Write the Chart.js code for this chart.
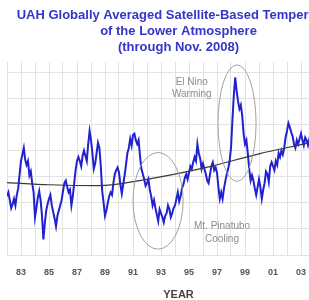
<!DOCTYPE html>
<html>
<head>
<meta charset="utf-8">
<script src="https://cdn.jsdelivr.net/npm/chart.js"></script>
<style>
  html, body { margin: 0; padding: 0; background: #fff; overflow: hidden; }
  #wrap { position: absolute; left: 0; top: 0; width: 358px; height: 300px; }
</style>
</head>
<body>
<div id="wrap"><canvas id="uahChart" width="358" height="300"></canvas></div>
<script>
// anomalies (deg C), about one value per 0.1 year
const years = [
  1982.0, 1982.1, 1982.2, 1982.3, 1982.4, 1982.5, 1982.6, 1982.7, 1982.8, 1982.9,
  1983.0, 1983.1, 1983.2, 1983.3, 1983.4, 1983.5, 1983.6, 1983.7, 1983.8, 1983.9,
  1984.0, 1984.1, 1984.2, 1984.3, 1984.4, 1984.5, 1984.6, 1984.7, 1984.8, 1984.9,
  1985.0, 1985.1, 1985.2, 1985.3, 1985.4, 1985.5, 1985.6, 1985.7, 1985.8, 1985.9,
  1986.0, 1986.1, 1986.2, 1986.3, 1986.4, 1986.5, 1986.6, 1986.7, 1986.8, 1986.9,
  1987.0, 1987.1, 1987.2, 1987.3, 1987.4, 1987.5, 1987.6, 1987.7, 1987.8, 1987.9,
  1988.0, 1988.1, 1988.2, 1988.3, 1988.4, 1988.5, 1988.6, 1988.7, 1988.8, 1988.9,
  1989.0, 1989.1, 1989.2, 1989.3, 1989.4, 1989.5, 1989.6, 1989.7, 1989.8, 1989.9,
  1990.0, 1990.1, 1990.2, 1990.3, 1990.4, 1990.5, 1990.6, 1990.7, 1990.8, 1990.9,
  1991.0, 1991.1, 1991.2, 1991.3, 1991.4, 1991.5, 1991.6, 1991.7, 1991.8, 1991.9,
  1992.0, 1992.1, 1992.2, 1992.3, 1992.4, 1992.5, 1992.6, 1992.7, 1992.8, 1992.9,
  1993.0, 1993.1, 1993.2, 1993.3, 1993.4, 1993.5, 1993.6, 1993.7, 1993.8, 1993.9,
  1994.0, 1994.1, 1994.2, 1994.3, 1994.4, 1994.5, 1994.6, 1994.7, 1994.8, 1994.9,
  1995.0, 1995.1, 1995.2, 1995.3, 1995.4, 1995.5, 1995.6, 1995.7, 1995.8, 1995.9,
  1996.0, 1996.1, 1996.2, 1996.3, 1996.4, 1996.5, 1996.6, 1996.7, 1996.8, 1996.9,
  1997.0, 1997.1, 1997.2, 1997.3, 1997.4, 1997.5, 1997.6, 1997.7, 1997.8, 1997.9,
  1998.0, 1998.1, 1998.2, 1998.3, 1998.4, 1998.5, 1998.6, 1998.7, 1998.8, 1998.9,
  1999.0, 1999.1, 1999.2, 1999.3, 1999.4, 1999.5, 1999.6, 1999.7, 1999.8, 1999.9,
  2000.0, 2000.1, 2000.2, 2000.3, 2000.4, 2000.5, 2000.6, 2000.7, 2000.8, 2000.9,
  2001.0, 2001.1, 2001.2, 2001.3, 2001.4, 2001.5, 2001.6, 2001.7, 2001.8, 2001.9,
  2002.0, 2002.1, 2002.2, 2002.3, 2002.4, 2002.5, 2002.6, 2002.7, 2002.8, 2002.9,
  2003.0, 2003.1, 2003.2, 2003.3, 2003.4, 2003.5, 2003.6, 2003.7, 2003.8, 2003.9,
  2004.0
];
const anomalies = [
  -0.15, -0.12, -0.18, -0.24, -0.21, -0.17, -0.22, -0.14, -0.09, 0.02,
  0.12, 0.17, 0.22, 0.13, 0.09, 0.12, 0.01, 0.04, -0.05, -0.12,
  -0.31, -0.24, -0.16, -0.11, -0.18, -0.30, -0.48, -0.36, -0.26, -0.21,
  -0.17, -0.14, -0.22, -0.27, -0.32, -0.38, -0.30, -0.26, -0.22, -0.18,
  -0.11, -0.05, -0.03, -0.08, -0.12, -0.10, -0.22, -0.15, -0.05, 0.05,
  0.12, 0.15, 0.12, 0.08, 0.16, 0.20, 0.16, 0.12, 0.25, 0.35,
  0.28, 0.18, 0.06, 0.10, 0.18, 0.26, 0.22, 0.08, -0.11, -0.20,
  -0.30, -0.26, -0.20, -0.15, -0.12, -0.14, -0.05, 0.02, 0.05, 0.07,
  0.03, -0.06, -0.13, -0.06, 0.01, 0.09, 0.18, 0.22, 0.29, 0.24,
  0.32, 0.33, 0.28, 0.25, 0.28, 0.16, 0.06, 0.02, -0.02, -0.07,
  -0.05, -0.02, -0.10, -0.15, -0.22, -0.18, -0.24, -0.29, -0.34, -0.25,
  -0.28, -0.31, -0.35, -0.30, -0.28, -0.22, -0.25, -0.31, -0.28, -0.24,
  -0.22, -0.17, -0.12, -0.19, -0.15, -0.09, -0.06, -0.01, 0.02, -0.02,
  0.03, 0.08, 0.06, 0.11, 0.15, 0.12, 0.25, 0.18, 0.14, 0.06,
  0.10, 0.06, 0.02, -0.03, -0.05, 0.02, 0.08, 0.11, 0.05, 0.07,
  0.03, -0.08, -0.17, -0.12, -0.17, -0.09, -0.03, 0.02, 0.06, 0.12,
  0.22, 0.43, 0.62, 0.76, 0.66, 0.58, 0.52, 0.55, 0.47, 0.33,
  0.25, 0.28, 0.18, 0.06, -0.03, 0.01, -0.03, -0.09, -0.14, -0.08,
  -0.02, -0.08, -0.17, -0.10, -0.05, 0.04, 0.02, -0.04, 0.08, 0.11,
  0.08, 0.05, 0.12, 0.09, 0.18, 0.15, 0.20, 0.17, 0.22, 0.30,
  0.35, 0.41, 0.38, 0.34, 0.31, 0.25, 0.22, 0.28, 0.25, 0.29,
  0.33, 0.28, 0.24, 0.30, 0.28, 0.24, 0.29, 0.27, 0.25, 0.30,
  0.24
];

// smooth trend curve
const trendYears = [1982.0, 1985.0, 1988.5, 1992.0, 1996.0, 2000.0, 2004.0, 2006.5];
const trendValues = [-0.045, -0.062, -0.069, -0.02, 0.065, 0.175, 0.27, 0.34];

const titleLines = [
  'UAH Globally Averaged Satellite-Based Temperature',
  'of the Lower Atmosphere',
  '(through Nov. 2008)'
];
const gridValues = [-0.6, -0.4, -0.2, 0, 0.2, 0.4, 0.6, 0.8];

// callouts: ellipse centre/radii in data units, label lines
const callouts = [
  { cx: 1992.79, cy: -0.185, rx: 1.79, ry: 0.37,
    text: ['Mt. Pinatubo', 'Cooling'], tx: 1997.36, ty: [-0.377, -0.477] },
  { cx: 1998.43, cy: 0.41, rx: 1.36, ry: 0.446,
    text: ['El Nino', 'Warming'], tx: 1995.2, ty: [0.72, 0.635] }
];

const FONT = '"Liberation Sans", Arial, sans-serif';

const calloutPlugin = {
  id: 'callouts',
  afterDatasetsDraw(chart) {
    const { ctx, scales: { x, y } } = chart;
    ctx.save();
    ctx.strokeStyle = '#a0a0a0';
    ctx.lineWidth = 1;
    ctx.fillStyle = '#8c8c8c';
    ctx.font = '10px ' + FONT;
    ctx.textAlign = 'center';
    ctx.textBaseline = 'middle';
    callouts.forEach(c => {
      const px = x.getPixelForValue(c.cx);
      const py = y.getPixelForValue(c.cy);
      const rx = Math.abs(x.getPixelForValue(c.cx + c.rx) - px);
      const ry = Math.abs(y.getPixelForValue(c.cy + c.ry) - py);
      ctx.beginPath();
      ctx.ellipse(px, py, rx, ry, 0, 0, Math.PI * 2);
      ctx.stroke();
      c.text.forEach((t, i) => {
        ctx.fillText(t, x.getPixelForValue(c.tx), y.getPixelForValue(c.ty[i]));
      });
    });
    ctx.restore();
  }
};

const ctx = document.getElementById('uahChart').getContext('2d');
new Chart(ctx, {
  type: 'line',
  data: {
    datasets: [{
      label: 'Trend',
      data: trendYears.map((t, i) => ({ x: t, y: trendValues[i] })),
      borderColor: '#3a3a3a',
      borderWidth: 1.2,
      pointRadius: 0,
      cubicInterpolationMode: 'monotone',
      fill: false
    }, {
      label: 'Anomaly',
      data: years.map((t, i) => ({ x: t, y: anomalies[i] })),
      borderColor: '#2121cf',
      borderWidth: 2,
      pointRadius: 0,
      tension: 0,
      fill: false
    }]
  },
  options: {
    responsive: false,
    animation: false,
    devicePixelRatio: 1,
    layout: { padding: { left: 7, right: 8, top: 0, bottom: 0 } },
    plugins: {
      legend: { display: false },
      tooltip: { enabled: false },
      title: {
        display: true,
        text: titleLines,
        color: '#3535c8',
        font: { family: FONT, size: 13, weight: 'bold', lineHeight: 1.2 },
        padding: { top: 8, bottom: 7 }
      }
    },
    scales: {
      x: {
        type: 'linear',
        min: 1982,
        max: 2006.5,
        afterFit: (s) => { s.height = 45; s.paddingLeft = 0; s.paddingRight = 0; },
        grid: { color: '#e2e2e2', drawTicks: false },
        border: { display: false },
        ticks: {
          stepSize: 1,
          autoSkip: false,
          maxRotation: 0,
          padding: 12,
          color: '#555',
          font: { family: FONT, size: 9, weight: 'bold' },
          callback: (v) => (v % 2 === 1 ? String(v).slice(2) : '')
        },
        title: {
          display: true,
          text: 'YEAR',
          color: '#444',
          padding: { top: 0, bottom: 0 },
          font: { family: FONT, size: 11, weight: 'bold', lineHeight: 1 }
        }
      },
      y: {
        min: -0.6,
        max: 0.88,
        afterFit: (s) => { s.width = 0; s.paddingTop = 0; s.paddingBottom = 0; },
        afterBuildTicks: (s) => { s.ticks = gridValues.map(v => ({ value: v })); },
        grid: { color: '#e2e2e2', drawTicks: false },
        border: { display: false },
        ticks: { display: false }
      }
    }
  },
  plugins: [calloutPlugin]
});
</script>
</body>
</html>
